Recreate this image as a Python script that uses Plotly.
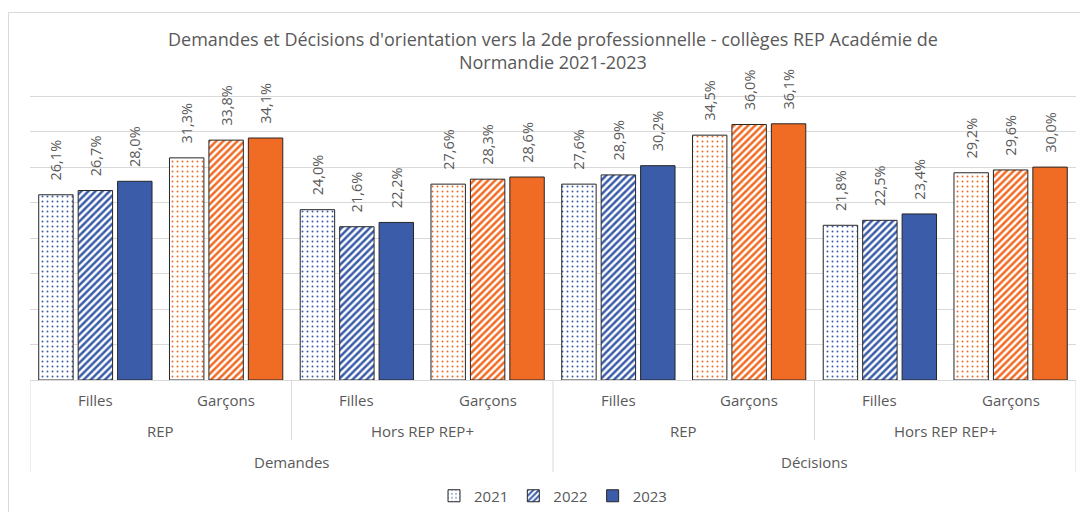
import plotly.graph_objects as go

# ---- data ----
sexes = ["Filles", "Garçons", "Filles", "Garçons", "Filles", "Garçons", "Filles", "Garçons"]
zones = ["REP", "Hors REP REP+", "REP", "Hors REP REP+"]
stages = ["Demandes", "Décisions"]
years = ["2021", "2022", "2023"]
v2021 = [26.1, 31.3, 24.0, 27.6, 27.6, 34.5, 21.8, 29.2]
v2022 = [26.7, 33.8, 21.6, 28.3, 28.9, 36.0, 22.5, 29.6]
v2023 = [28.0, 34.1, 22.2, 28.6, 30.2, 36.1, 23.4, 30.0]
title_text = ("Demandes et Décisions d'orientation vers la 2de professionnelle - collèges REP Académie de"
              "<br>Normandie 2021-2023")

BLUE = "#3a5ca9"
ORANGE = "#f06b24"
GRID = "#d9d9d9"
TXT = "#595959"
FONT = "Open Sans"

colors = [BLUE if s == "Filles" else ORANGE for s in sexes]
xs = list(range(len(sexes)))

def fmt(v):
    return "\u00a0\u00a0\u00a0" + f"{v:.1f}".replace(".", ",") + "%"

fig = go.Figure()
patterns = [dict(shape=".", size=5, solidity=0.12), dict(shape="/", size=5, solidity=0.5), dict(shape="")]
for yr, vals, pat in zip(years, [v2021, v2022, v2023], patterns):
    marker = dict(color=colors if pat["shape"] == "" else "white",
                  line=dict(color="#262626", width=1))
    if pat["shape"]:
        marker["pattern"] = dict(shape=pat["shape"], size=pat["size"], solidity=pat["solidity"],
                                 fgcolor=colors, bgcolor="white", fillmode="overlay", fgopacity=1)
    fig.add_trace(go.Bar(
        x=xs, y=vals, name=yr, marker=marker,
        text=[fmt(v) for v in vals], textposition="outside", textangle=-90,
        outsidetextfont=dict(family=FONT, size=14.5, color=TXT),
        cliponaxis=False, constraintext="none",
    ))

# page has an 8px body margin: figure pixel = page pixel - 8; keep figure inside the viewport
OFF = 8
W, HT = 1088 - 2 * OFF, 520 - 2 * OFF
YMAX = 40.3
L = 30 - OFF
R = W - (1076 - OFF)
B = HT - (380 - OFF)
T = round((96 - OFF) - (YMAX - 40) * (380 - 96) / 40)
H = HT - T - B
PW = W - L - R

def py(page_pix):  # page pixel y -> paper y
    return ((380 - OFF) - (page_pix - OFF)) / H

def px(page_pix):  # page pixel x -> paper x
    return ((page_pix - OFF) - L) / PW

shapes = []
for xb, ybot in [(-0.5, 472), (1.5, 440), (3.5, 472), (5.5, 440), (7.5, 472)]:
    shapes.append(dict(type="line", xref="x", yref="paper", x0=xb, x1=xb, y0=0, y1=py(ybot),
                       line=dict(color=GRID, width=1)))
shapes.append(dict(type="rect", xref="paper", yref="paper",
                   x0=px(8.5), x1=px(1120), y0=py(12.5), y1=py(560),
                   line=dict(color=GRID, width=1), fillcolor="rgba(0,0,0,0)", layer="below"))

annotations = [dict(x=px(553), y=py(50.5), xref="paper", yref="paper", text=title_text, showarrow=False,
                    font=dict(family=FONT, size=18, color=TXT), yanchor="middle", xanchor="center",
                    align="center")]
for i, s in enumerate(sexes):
    annotations.append(dict(x=i, y=py(400), xref="x", yref="paper", text=s, showarrow=False,
                            font=dict(family=FONT, size=15, color=TXT), yanchor="middle"))
for j, z in enumerate(zones):
    annotations.append(dict(x=2 * j + 0.5, y=py(431), xref="x", yref="paper", text=z, showarrow=False,
                            font=dict(family=FONT, size=15, color=TXT), yanchor="middle"))
for k, st in enumerate(stages):
    annotations.append(dict(x=4 * k + 1.5, y=py(462), xref="x", yref="paper", text=st, showarrow=False,
                            font=dict(family=FONT, size=15, color=TXT), yanchor="middle"))

fig.update_layout(
    width=W, height=HT,
    margin=dict(l=L, r=R, t=T, b=B, autoexpand=False),
    paper_bgcolor="white", plot_bgcolor="white",
    barmode="group", bargap=0.095, bargroupgap=0.127,
    xaxis=dict(range=[-0.5, 7.5], showticklabels=False, showgrid=False, zeroline=False,
               showline=False, ticks=""),
    yaxis=dict(range=[0, YMAX], dtick=5, showticklabels=False, showgrid=True, gridcolor=GRID,
               gridwidth=1, zeroline=True, zerolinecolor=GRID, zerolinewidth=1, showline=False, ticks=""),
    legend=dict(orientation="h", x=0.5, xanchor="center", y=py(496), yanchor="middle",
                font=dict(family=FONT, size=15, color=TXT), itemwidth=30, traceorder="normal"),
    showlegend=True,
    shapes=shapes, annotations=annotations,
)

fig.write_html("out.html")
